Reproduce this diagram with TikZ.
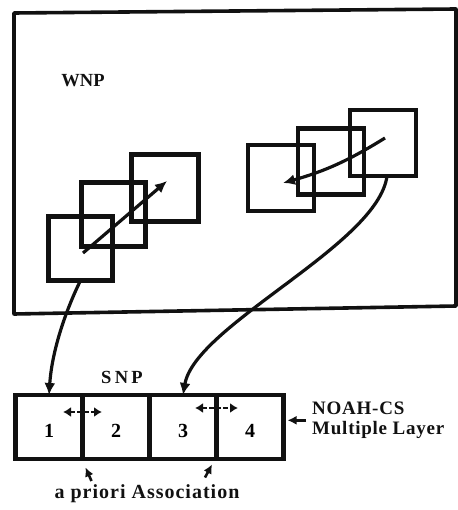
\documentclass[tikz,border=0pt]{standalone}
\usepackage{fontspec}
\setmainfont{Liberation Serif}
\usepackage{xcolor}
\definecolor{cInk}{HTML}{111111}
\usepackage{tikz}
\usetikzlibrary{positioning,arrows.meta,calc}
\tikzset{
  patch-box/.style={draw=cInk,line width=4.2pt,minimum size=64pt,
    inner sep=0pt,outer sep=0pt},
  cell-box/.style={draw=cInk,line width=4.2pt,minimum width=67pt,
    minimum height=64pt,inner sep=0pt,outer sep=0pt,text height=21.5pt,
    font=\fontsize{20}{22}\selectfont\bfseries},
  frame-line/.style={draw=cInk,line width=3.6pt,line join=round},
  label-text/.style={inner sep=0pt,align=left,text=cInk,
    font=\fontsize{19}{20.5}\selectfont\bfseries\addfontfeatures{LetterSpace=4}},
  name-text/.style={inner sep=0pt,text=cInk,
    font=\fontsize{18.5}{20}\selectfont\bfseries},
  arrow/.style={-{Latex[length=12pt,width=11pt]},line width=3.2pt,draw=cInk},
  arrow-small/.style={-{Latex[length=9pt,width=9pt]},line width=2.6pt,draw=cInk},
  arrow-assoc/.style={{Latex[length=8pt,width=10pt]}-{Latex[length=8pt,width=10pt]},
    line width=2.4pt,draw=cInk,dash pattern=on 5pt off 2pt},
}

\begin{document}
\begin{tikzpicture}[x=1pt,y=1pt]
  \useasboundingbox (0,0) rectangle (457,-510);
  % WNP region
  \draw[frame-line] (14,-13) -- (456,-9) -- (456,-306) -- (14,-314) -- cycle;
  \node[name-text] (wnp) at (83,-81) {WNP};

  % left stack of patches
  \node[patch-box] (A) at (80.5,-248.5) {};
  \node[patch-box] (B) at (113.5,-214.5) {};
  \node[patch-box,minimum size=67pt] (C) at (165,-188) {};
  \draw[arrow] ([shift={(2.5,-4.5)}]A.center) -- ([shift={(2,7)}]C.center);

  % right stack of patches
  \node[patch-box,minimum size=66pt] (D) at (281,-178) {};
  \node[patch-box,minimum size=66pt] (E) at (331,-161.5) {};
  \node[patch-box,minimum size=66pt] (F) at (383,-143) {};
  \draw[arrow] ([shift={(2,5)}]F.center) to[bend left=8] ([shift={(2,-5)}]D.center);

  % SNP layer
  \node[cell-box] (c1) at (49,-427) {1};
  \node[cell-box,right=0pt of c1] (c2) {2};
  \node[cell-box,right=0pt of c2] (c3) {3};
  \node[cell-box,right=0pt of c3] (c4) {4};
  \node[name-text,font=\fontsize{18.5}{20}\selectfont\bfseries\addfontfeatures{LetterSpace=18}]
    (snp) at (122,-377) {SNP};
  \draw[arrow-assoc,shorten <=14pt,shorten >=14pt]
    ([yshift=15pt]c1.center) -- ([yshift=15pt]c2.center);
  \draw[arrow-assoc,shorten <=12pt,shorten >=12pt]
    ([yshift=19pt]c3.center) -- ([yshift=19pt]c4.center);

  % mapping WNP -> SNP
  \draw[arrow] (A.south) .. controls (66,-310) and (52,-350) .. (c1.north);
  \draw[arrow] ([xshift=4pt]F.south) .. controls (378,-245) and (195,-325) .. (c3.north);

  % labels
  \node[label-text,anchor=north west] (noah) at (312,-401.5) {NOAH-CS\\Multiple Layer};
  \draw[arrow-small] ([xshift=-6pt]noah.west) -- ($(noah.west -| c4.east)+(4,0)$);
  \node[label-text,font=\fontsize{20}{22}\selectfont\bfseries\addfontfeatures{LetterSpace=5}]
    (apriori) at (147,-494) {a priori Association};
  \draw[arrow-small] ($(c1.south east)+(9,-22)$) -- ($(c1.south east)+(3,-8.5)$);
  \draw[arrow-small] ($(c3.south east)+(-11.5,-18.5)$) -- ($(c3.south east)+(-4.5,-5.5)$);
\end{tikzpicture}
\end{document}
